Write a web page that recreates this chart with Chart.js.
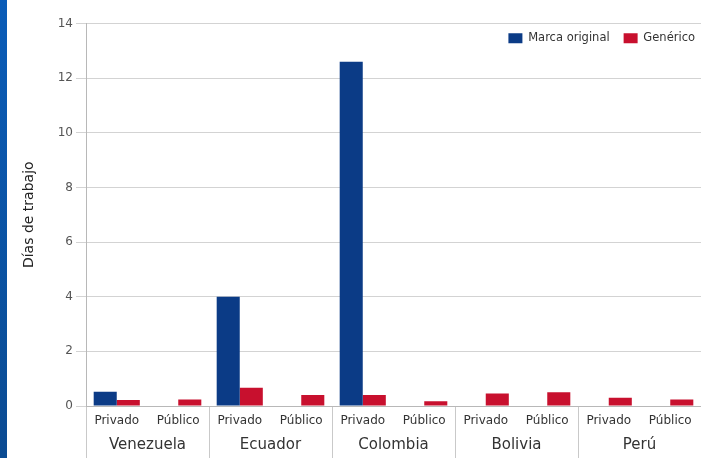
<!DOCTYPE html>
<html>
<head>
<meta charset="utf-8">
<script src="https://cdn.jsdelivr.net/npm/chart.js@4"></script>
<style>
  body { margin: 0; background: #fff; }
  #wrap { position: relative; width: 701px; height: 458px; }
  #franja { position: absolute; left: 0; top: 0; width: 7px; height: 458px;
            background: linear-gradient(#0a5cb8, #0b4b92); }
</style>
</head>
<body>
<div id="wrap">
  <canvas id="diasChart" width="701" height="458"></canvas>
  <div id="franja"></div>
</div>
<script>
var sectores = ['Privado', 'Público', 'Privado', 'Público', 'Privado', 'Público', 'Privado', 'Público', 'Privado', 'Público'];
var paises = ['Venezuela', 'Ecuador', 'Colombia', 'Bolivia', 'Perú'];
var marcaOriginal = [0.52, 0, 4.0, 0, 12.6, 0, 0, 0, 0, 0];
var generico = [0.22, 0.24, 0.67, 0.4, 0.4, 0.17, 0.46, 0.5, 0.3, 0.24];
var ticksY = [0, 2, 4, 6, 8, 10, 12, 14];

var gris = '#c9c9c9';

// mueve la leyenda dentro del área del gráfico, arriba a la derecha
var leyendaDentro = {
    id: 'leyendaDentro',
    afterLayout: function(chart) {
        var l = chart.legend;
        var dy = chart.chartArea.top - 5 - l.top;
        l.top += dy;
        l.bottom += dy;
        l.left += 8;
        l.right += 8;
    }
};

document.addEventListener('DOMContentLoaded', function() {
    var ctx = document.getElementById('diasChart').getContext('2d');
    new Chart(ctx, {
        type: 'bar',
        data: {
            labels: sectores,
            datasets: [{
                label: 'Marca original',
                data: marcaOriginal,
                backgroundColor: '#0b3b86'
            }, {
                label: 'Genérico',
                data: generico,
                backgroundColor: '#c8102e'
            }]
        },
        plugins: [leyendaDentro],
        options: {
            responsive: false,
            animation: false,
            layout: { padding: { left: 17, top: -12, right: 0, bottom: 0 } },
            categoryPercentage: 0.75,
            barPercentage: 1.0,
            plugins: {
                tooltip: { enabled: false },
                legend: {
                    position: 'top',
                    align: 'end',
                    padding: 0,
                    labels: {
                        boxWidth: 14,
                        boxHeight: 10,
                        padding: 14,
                        color: '#333',
                        font: { family: 'DejaVu Sans', size: 11.5 }
                    }
                }
            },
            scales: {
                // fila de sectores (Privado / Público)
                x: {
                    offset: true,
                    afterFit: function(scale) { scale.height = 14; },
                    grid: {
                        offset: true,
                        drawOnChartArea: false,
                        tickLength: 16,
                        color: function(c) { return c.index % 2 === 0 ? gris : 'rgba(0,0,0,0)'; }
                    },
                    border: { display: true, color: '#b8b8b8' },
                    ticks: {
                        mirror: true,
                        padding: -21.6,
                        maxRotation: 0,
                        autoSkip: false,
                        color: '#333',
                        font: { family: 'DejaVu Sans', size: 12 }
                    }
                },
                // fila de países
                x2: {
                    type: 'category',
                    position: 'bottom',
                    labels: paises,
                    offset: true,
                    afterFit: function(scale) { scale.height = 38; },
                    grid: {
                        offset: true,
                        drawOnChartArea: false,
                        tickLength: 38,
                        color: gris
                    },
                    border: { display: false },
                    ticks: {
                        mirror: true,
                        padding: -33.8,
                        maxRotation: 0,
                        autoSkip: false,
                        color: '#333',
                        font: { family: 'DejaVu Sans', size: 15 }
                    }
                },
                y: {
                    min: 0,
                    max: 14,
                    afterBuildTicks: function(scale) {
                        scale.ticks = ticksY.map(function(v) { return { value: v }; });
                    },
                    afterFit: function(scale) { scale.width = 69; },
                    grid: { color: '#d3d3d3', tickLength: 10 },
                    border: { color: '#b8b8b8' },
                    ticks: {
                        padding: 3,
                        color: '#555',
                        font: { family: 'DejaVu Sans', size: 12 }
                    },
                    title: {
                        display: true,
                        text: 'Días de trabajo',
                        color: '#222',
                        font: { family: 'DejaVu Sans', size: 14 }
                    }
                }
            }
        }
    });
});
</script>
</body>
</html>
